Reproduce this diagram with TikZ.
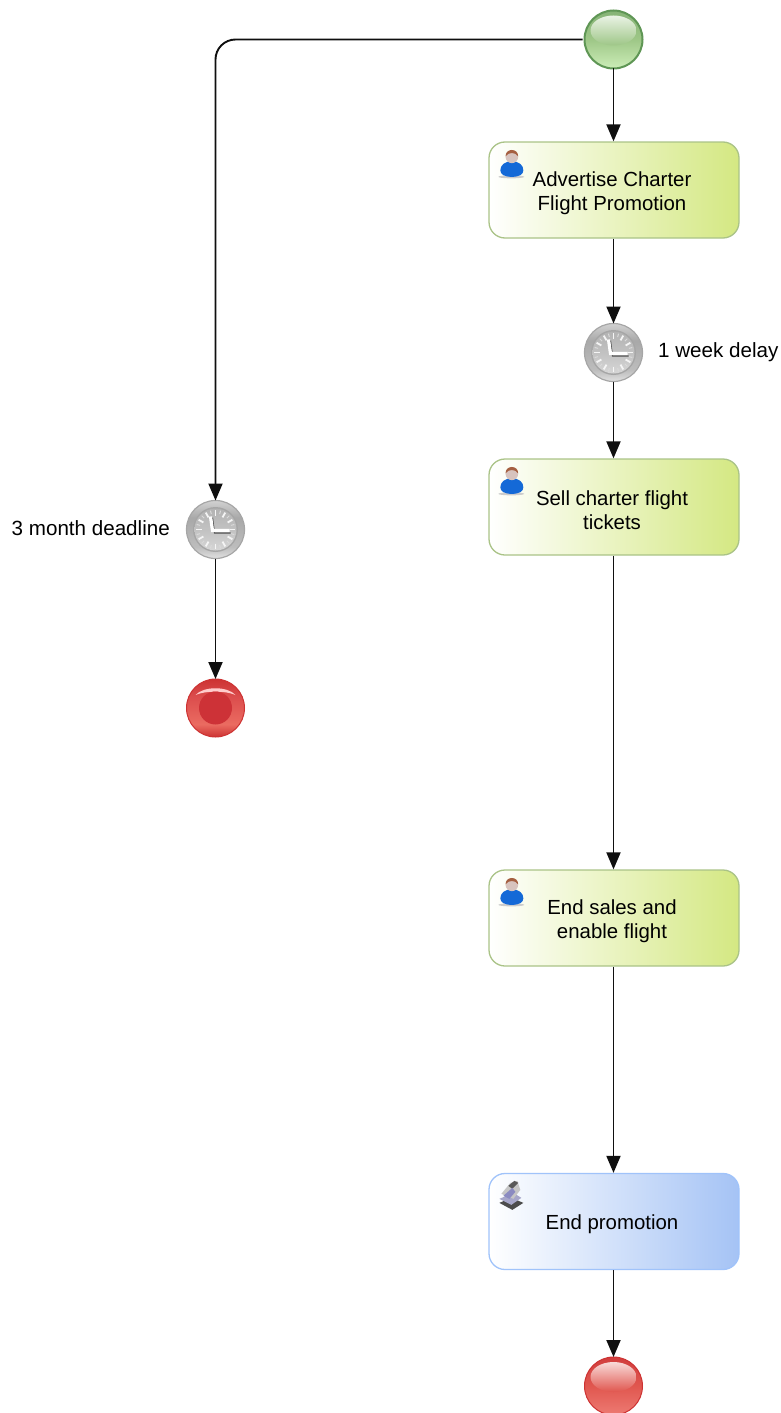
\documentclass[tikz,border=0pt]{standalone}
\usepackage{fontspec}
\setmainfont{Liberation Sans}
\usetikzlibrary{arrows.meta}
\definecolor{flowline}{RGB}{15,15,15}
\definecolor{usrborder}{RGB}{170,195,135}
\definecolor{usrfill}{RGB}{212,232,130}
\definecolor{svcborder}{RGB}{160,195,250}
\definecolor{svcfill}{RGB}{165,195,245}
\definecolor{startedge}{RGB}{95,150,85}
\definecolor{endedge}{RGB}{205,50,50}
\definecolor{endinner}{RGB}{205,50,55}
\definecolor{usrblue}{RGB}{20,105,215}
\definecolor{usrskin}{RGB}{215,195,190}
\definecolor{usrhair}{RGB}{165,95,65}
\definecolor{greenmid}{RGB}{158,198,135}
\definecolor{redmid}{RGB}{224,86,78}
\pgfdeclareverticalshading{glossgreen}{100bp}{
  rgb(0bp)=(0.80,0.93,0.72);
  rgb(25bp)=(0.80,0.93,0.72);
  rgb(50bp)=(0.62,0.78,0.53);
  rgb(75bp)=(0.52,0.70,0.46);
  rgb(100bp)=(0.52,0.70,0.46)}
\pgfdeclareverticalshading{glossred}{100bp}{
  rgb(0bp)=(0.93,0.48,0.45);
  rgb(25bp)=(0.93,0.48,0.45);
  rgb(50bp)=(0.88,0.34,0.31);
  rgb(75bp)=(0.82,0.24,0.24);
  rgb(100bp)=(0.82,0.24,0.24)}
\pgfdeclareverticalshading{clockring}{100bp}{
  rgb(0bp)=(0.90,0.90,0.90);
  rgb(25bp)=(0.88,0.88,0.88);
  rgb(35bp)=(0.74,0.74,0.74);
  rgb(60bp)=(0.66,0.66,0.66);
  rgb(75bp)=(0.82,0.82,0.82);
  rgb(100bp)=(0.82,0.82,0.82)}
\pgfdeclareverticalshading{clockface}{100bp}{
  rgb(0bp)=(0.84,0.84,0.84);
  rgb(25bp)=(0.84,0.84,0.84);
  rgb(50bp)=(0.76,0.76,0.76);
  rgb(75bp)=(0.70,0.70,0.70);
  rgb(100bp)=(0.70,0.70,0.70)}
\pgfdeclareverticalshading{redring}{100bp}{
  rgb(0bp)=(0.80,0.20,0.20);
  rgb(25bp)=(0.80,0.20,0.20);
  rgb(36bp)=(0.92,0.42,0.38);
  rgb(60bp)=(0.86,0.30,0.30);
  rgb(75bp)=(0.80,0.20,0.20);
  rgb(100bp)=(0.80,0.20,0.20)}
\tikzset{
  x=1pt,y=-1pt,
  flow/.style={draw=flowline,line width=1.9pt,-{Triangle[length=17pt,width=14pt]}},
  tasktext/.style={inner sep=0pt,align=center,text=black,xshift=-2pt,yshift=-3pt,
    font=\fontsize{20.4}{23.8}\selectfont},
  taskbase/.style={rounded corners=16pt,line width=1.3pt,minimum width=250pt,minimum height=96pt,inner sep=0pt},
  usertask/.style={taskbase,draw=usrborder,left color=white,right color=usrfill},
  servicetask/.style={taskbase,draw=svcborder,left color=white,right color=svcfill},
  evt/.style={circle,minimum size=58pt,inner sep=0pt,outer sep=0pt},
  startevt/.style={evt,draw=startedge,line width=2pt,shading=glossgreen},
  endevt/.style={evt,draw=endedge,line width=1pt,shading=glossred},
  termevt/.style={evt,draw=endedge,line width=1pt,shading=redring},
  timerevt/.style={evt,draw=gray!70,line width=1.2pt,shading=clockring},
  lbl/.style={inner sep=0pt,text=black,font=\fontsize{20.6}{24}\selectfont}
}
\newcommand{\glossdraw}[2]{%
  \begin{scope}[shift={(#1.center)}]
    \shade[top color=white!78!#2,bottom color=#2] (0,-9) ellipse (23 and 15);
  \end{scope}}
\newcommand{\clockdraw}[1]{%
  \begin{scope}[shift={(#1.center)}]
    \fill[gray!70] (0,0) circle (22.5);
    \shade[shading=clockface] (0,0) circle (21);
    \foreach \a in {0,30,...,330}{
      \draw[white!92!gray,line width=1.8pt] (\a:14) -- (\a:19.5);
      \draw[white!70!gray,line width=1pt] (\a+15:16) -- (\a+15:19.5);
    }
    \draw[gray!60!black,line width=1.1pt,line join=miter] (-3,-12) -- (-1,3.5) -- (15,3.5);
    \draw[white,line width=3.2pt,line join=miter] (-5,-13) -- (-3,1) -- (14,1);
  \end{scope}}
\newcommand{\usericon}[1]{%
  \begin{scope}[shift={(#1.north west)}]
    \fill[gray!40] (23,35.5) ellipse (13 and 1.5);
    \fill[usrblue] (12,29) .. controls (12,24) and (16,20) .. (23.5,20)
       .. controls (31,20) and (35,24) .. (35,29)
       .. controls (35,33) and (31,35.5) .. (23.5,35.5)
       .. controls (16,35.5) and (12,33) .. (12,29) -- cycle;
    \fill[usrskin] (23.5,15.5) circle (6.3);
    \fill[usrhair] (17.2,15) .. controls (17,6.5) and (30,6.5) .. (29.8,15)
       .. controls (27,10.5) and (20,10.5) .. (17.2,15) -- cycle;
  \end{scope}}
\newcommand{\serviceicon}[1]{%
  \begin{scope}[shift={(#1.north west)}]
    \fill[gray!60!black] (11,30) -- (23,25) -- (35,30) -- (24,37) -- cycle;
    \fill[blue!25!gray!55] (11,26) -- (25,20) -- (33,25) -- (23,32) -- cycle;
    \fill[gray!45] (13,21) -- (22,10) -- (29,8) -- (32,17) -- (25,26) -- cycle;
    \fill[gray!70!black] (20,13) -- (26,8) -- (30,10) -- (24,16) -- cycle;
    \fill[blue!30!gray!70] (15,23) -- (24,15) -- (27,19) -- (21,26) -- cycle;
  \end{scope}}
\begin{document}
\begin{tikzpicture}
  \useasboundingbox (0,0) rectangle (781,1413);
  % events
  \node[startevt] (start) at (613.5,39.5) {};
  \node[timerevt] (delay) at (613.5,352.5) {};
  \node[timerevt] (deadline) at (215.5,529.5) {};
  \node[termevt] (term) at (215.5,708) {};
  \node[endevt] (finish) at (613.5,1386) {};
  % tasks
  \node[usertask,label={[tasktext]center:Advertise Charter\\Flight Promotion}] (advertise) at (614,190) {};
  \node[usertask,label={[tasktext]center:Sell charter flight\\tickets}] (sell) at (614,507) {};
  \node[usertask,label={[tasktext]center:End sales and\\enable flight}] (endsales) at (614,918) {};
  \node[servicetask,label={[tasktext]center:End promotion}] (endpromo) at (614,1221.5) {};
  % labels
  \node[lbl,anchor=west] (delaylbl) at (658,352) {1 week delay};
  \node[lbl,anchor=east] (deadlinelbl) at (170,528) {3 month deadline};
  % decorations
  \glossdraw{start}{greenmid}
  \glossdraw{finish}{redmid}
  \clockdraw{delay}
  \clockdraw{deadline}
  \begin{scope}[shift={(term.center)}]
    \fill[white!80!red] (-20,-13) .. controls (-12,-22) and (12,-22) .. (20,-13)
       .. controls (10,-17.5) and (-10,-17.5) .. (-20,-13) -- cycle;
    \fill[endinner] (0,0) circle (16.5);
  \end{scope}
  \usericon{advertise}
  \usericon{sell}
  \usericon{endsales}
  \serviceicon{endpromo}
  % connectors
  \coordinate (startleft) at ([xshift=-2pt]start.west);
  \draw[flow,rounded corners=20pt] (startleft) -| (deadline.north);
  \draw[flow] (start.south) -- (start.south|-advertise.north);
  \draw[flow] (advertise.south-|delay) -- (delay.north);
  \draw[flow] (delay.south) -- (sell.north-|delay);
  \draw[flow] (sell.south-|delay) -- (endsales.north-|delay);
  \draw[flow] (deadline.south) -- (term.north);
  \draw[flow] (endsales.south-|delay) -- (endpromo.north-|delay);
  \draw[flow] (endpromo.south-|delay) -- (finish.north);
\end{tikzpicture}
\end{document}
